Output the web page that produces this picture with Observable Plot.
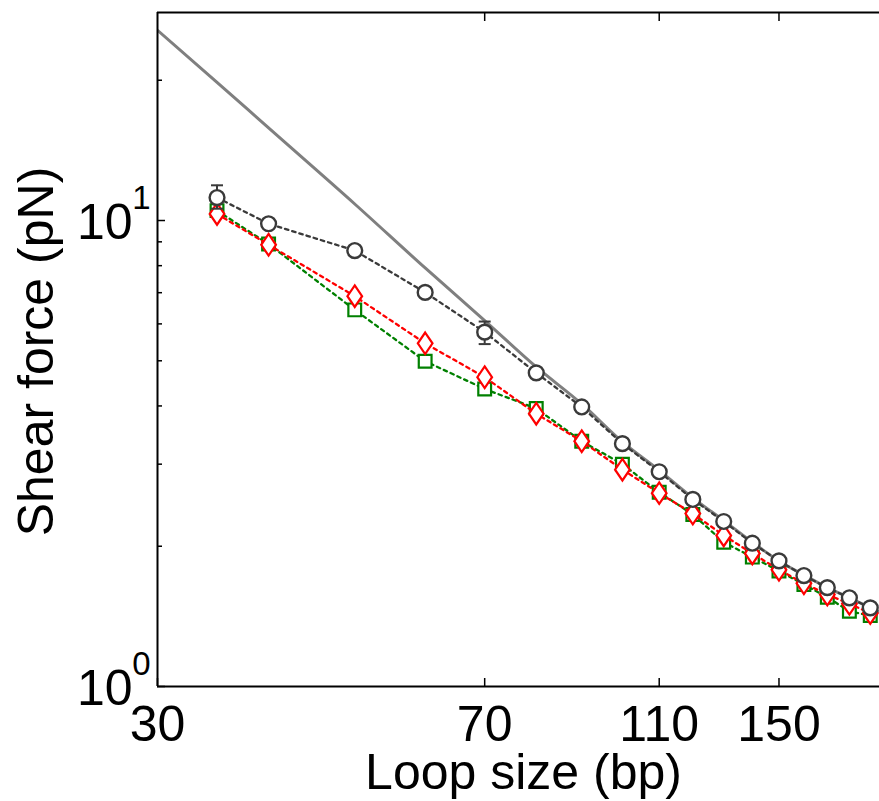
<!DOCTYPE html>
<html>
<head>
<meta charset="utf-8">
<script src="https://cdn.jsdelivr.net/npm/d3@7"></script>
<script src="https://cdn.jsdelivr.net/npm/@observablehq/plot@0.6"></script>
<style>
  html, body { margin: 0; padding: 0; background: #fff; }
  #chart svg { display: block; }
</style>
</head>
<body>
<div id="chart"></div>
<script>
// ---- data ----
const loopSize = [35, 40, 50, 60, 70, 80, 90, 100, 110, 120, 130, 140, 150, 160, 170, 180, 190];
const forceCircles = [11.2, 9.84, 8.62, 7.01, 5.76, 4.71, 3.98, 3.32, 2.89, 2.52, 2.26, 2.03, 1.86, 1.73, 1.63, 1.55, 1.475];
const forceDiamonds = [10.33, 8.87, 6.88, 5.45, 4.61, 3.85, 3.36, 2.92, 2.60, 2.35, 2.11, 1.93, 1.78, 1.665, 1.575, 1.505, 1.437];
const forceSquares = [10.5, 8.9, 6.43, 4.99, 4.35, 3.95, 3.36, 3.0, 2.61, 2.34, 2.04, 1.895, 1.77, 1.655, 1.555, 1.45, 1.42];

const errX = [35, 70];
const errLow = [10.6, 5.43];
const errHigh = [11.9, 6.07];

const curveX = [30, 35, 40, 50, 60, 70, 80, 90, 100, 110, 120, 130, 140, 150, 160, 170, 180, 190, 200];
const curveY = [25.6, 19.8, 15.8, 10.85, 7.91, 6.10, 4.85, 4.04, 3.35, 2.91, 2.54, 2.27, 2.04, 1.86, 1.735, 1.63, 1.55, 1.477, 1.41];

const xDomain = [30, 194.6];
const yDomain = [1, 27.95];
const xTickValues = [30, 70, 110, 150];
const xTopTicks = [70, 110, 150];
const yMajorTicks = [1, 10];
const yMinorTicks = [2, 3, 4, 5, 6, 7, 8, 9, 20];
const yExponent = ["0", "1"];

const xLabel = "Loop size (bp)";
const yLabel = "Shear force (pN)";

// ---- build tables ----
const mk = (ys) => loopSize.map((x, i) => ({x, y: ys[i]}));
const circles = mk(forceCircles);
const diamonds = mk(forceDiamonds);
const squares = mk(forceSquares);
const errs = errX.map((x, i) => ({x, lo: errLow[i], hi: errHigh[i]}));
const curve = curveX.map((x, i) => ({x, y: curveY[i]}));

const diamondSymbol = {
  draw(ctx, size) {
    const a = Math.sqrt(size / 1.36), b = a * 0.68;
    ctx.moveTo(0, -a); ctx.lineTo(b, 0); ctx.lineTo(0, a); ctx.lineTo(-b, 0); ctx.closePath();
  }
};
const capSymbol = {
  draw(ctx, size) {
    const w = Math.sqrt(size);
    ctx.moveTo(-w / 2, 0); ctx.lineTo(w / 2, 0);
  }
};

const FONT = "Liberation Sans, Arial, Helvetica, sans-serif";
const dark = "#3a3a3a";
const dash = "3.5,4";

const chart = Plot.plot({
  width: 879,
  height: 801,
  marginLeft: 157,
  marginRight: 0,
  marginTop: 12,
  marginBottom: 115,
  style: {fontFamily: FONT, color: "black", background: "white"},
  x: {type: "log", domain: xDomain},
  y: {type: "log", domain: yDomain},
  marks: [
    // theory curve
    Plot.line(curve, {x: "x", y: "y", stroke: "#7f7f7f", strokeWidth: 3, curve: "monotone-x", clip: true}),
    // green squares series
    Plot.line(squares, {x: "x", y: "y", stroke: "#008000", strokeWidth: 2.3, strokeDasharray: dash}),
    Plot.dot(squares, {x: "x", y: "y", symbol: "square", r: 7.2, stroke: "#008000", fill: "white", strokeWidth: 2.2}),
    // red diamonds series
    Plot.line(diamonds, {x: "x", y: "y", stroke: "#ff0000", strokeWidth: 2.3, strokeDasharray: dash}),
    Plot.dot(diamonds, {x: "x", y: "y", symbol: diamondSymbol, r: 7.1, stroke: "#ff0000", fill: "white", strokeWidth: 2.2}),
    // dark circles series with error bars
    Plot.line(circles, {x: "x", y: "y", stroke: dark, strokeWidth: 2.3, strokeDasharray: dash}),
    Plot.ruleX(errs, {x: "x", y1: "lo", y2: "hi", stroke: dark, strokeWidth: 2}),
    Plot.dot(errs, {x: "x", y: "lo", symbol: capSymbol, r: 6.77, stroke: dark, fill: "none", strokeWidth: 2}),
    Plot.dot(errs, {x: "x", y: "hi", symbol: capSymbol, r: 6.77, stroke: dark, fill: "none", strokeWidth: 2}),
    Plot.dot(circles, {x: "x", y: "y", r: 7.4, stroke: dark, fill: "white", strokeWidth: 2.4}),
    // axis lines (left, bottom, top)
    Plot.ruleX([xDomain[0]], {stroke: "black", strokeWidth: 2}),
    Plot.ruleY([yDomain[0]], {stroke: "black", strokeWidth: 2}),
    Plot.ruleY([yDomain[1]], {stroke: "black", strokeWidth: 2}),
    // inward ticks
    Plot.axisX(xTickValues, {anchor: "bottom", tickSize: -8, tickFormat: () => "", strokeWidth: 1.5, label: null}),
    Plot.axisX(xTopTicks, {anchor: "top", tickSize: -8, tickFormat: () => "", strokeWidth: 1.5, label: null}),
    Plot.axisY(yMajorTicks, {anchor: "left", tickSize: -8, tickFormat: () => "", strokeWidth: 1.5, label: null}),
    Plot.axisY(yMinorTicks, {anchor: "left", tickSize: -5, tickFormat: () => "", strokeWidth: 1.5, label: null}),
    // x tick labels
    Plot.text(xTickValues, {x: d => d, frameAnchor: "bottom", text: d => String(d), lineAnchor: "top", dy: 18.5, fontSize: 50, fill: "black"}),
    // y tick labels 10^n
    Plot.text(yMajorTicks, {y: d => d, frameAnchor: "left", text: () => "10", textAnchor: "end", lineAnchor: "middle", dx: -25, dy: 2, fontSize: 50, fill: "black"}),
    Plot.text(yMajorTicks, {y: d => d, frameAnchor: "left", text: (d, i) => yExponent[i], textAnchor: "end", lineAnchor: "middle", dx: -7, dy: -22, fontSize: 33, fill: "black"}),
    // axis titles
    Plot.text([xLabel], {frameAnchor: "bottom", text: d => d, textAnchor: "middle", lineAnchor: "top", dy: 67, dx: 5, fontSize: 50, fill: "black"}),
    Plot.text([yLabel], {frameAnchor: "left", text: d => d, rotate: -90, textAnchor: "middle", lineAnchor: "top", dx: -140.5, dy: 2, fontSize: 50, fill: "black"})
  ]
});
document.getElementById("chart").appendChild(chart);
</script>
</body>
</html>
